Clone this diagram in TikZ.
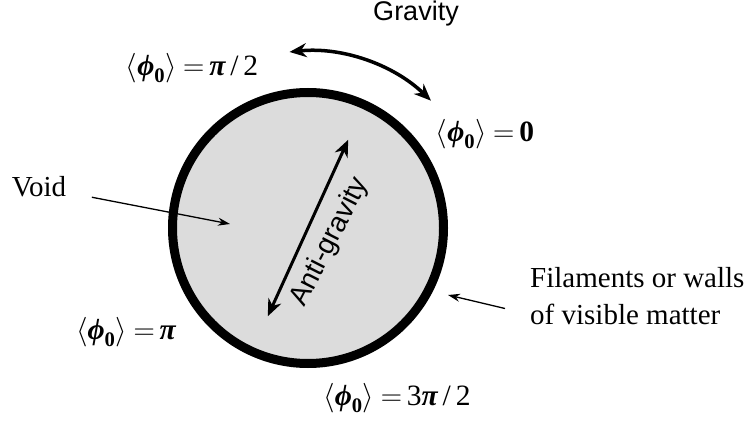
\documentclass[tikz,border=0pt]{standalone}
\usepackage{fix-cm}
\usepackage{amsmath}
\usepackage{fontspec}
\setmainfont{Liberation Serif}
\newfontfamily\arialfont{Liberation Sans}
\usetikzlibrary{arrows.meta,positioning}
\definecolor{voidgray}{HTML}{DCDCDC}

% mean phase label
\newcommand{\phimean}{\left\langle\text{\bfseries\itshape ϕ}_{\text{\bfseries 0}}\right\rangle}
\newcommand{\bpi}{\text{\bfseries\itshape π}}
\newcommand{\eqs}{\mskip1mu{=}\mskip3mu}

\tikzset{
  ring/.style={circle,draw,line width=9pt,fill=voidgray,minimum size=271pt,inner sep=0pt},
  philabel/.style={font=\fontsize{29.5}{34}\selectfont,inner sep=0pt},
  serifnote/.style={font=\fontsize{29}{37}\selectfont,align=left,inner sep=0pt},
  sanslabel/.style={font=\arialfont\fontsize{27}{30}\selectfont,inner sep=0pt},
  pointer/.style={-{Stealth[length=12pt,width=8pt]},line width=1.3pt},
  bigarrow/.style={{Stealth[length=17pt,width=14pt]}-{Stealth[length=17pt,width=14pt]},line width=3.5pt},
}

\begin{document}
\begin{tikzpicture}[x=1pt,y=1pt]
  \useasboundingbox (0,0) rectangle (745,424);

  % the void
  \node[ring] (disk) at (308,196) {};

  % gravity arc outside the wall
  \draw[bigarrow] ([shift={(96:177)}]disk.center) arc[start angle=96,end angle=46,radius=177];
  \node[sanslabel] (grav) at (416,410) {Gravity};

  % anti-gravity across the void
  \draw[bigarrow,line width=3pt] ([shift={(245.5:97)}]disk.center) -- ([shift={(65.5:97)}]disk.center);
  \node[sanslabel,font=\arialfont\fontsize{28}{30}\selectfont,rotate=63] (anti) at ([shift={(22,-14)}]disk.center) {Anti-gravity};

  % phase labels
  \node[philabel] (phitop) at (192,356) {$\phimean\eqs\bpi\text{\,/\,2}$};
  \node[philabel] (phizero) at (485,290) {$\phimean\eqs\text{\bfseries 0}$};
  \node[philabel] (phipi) at (126,92) {$\phimean\eqs\bpi$};
  \node[philabel] (phithree) at (397,26) {$\phimean\eqs\text{3}\bpi\text{\,/\,2}$};

  % pointers
  \node[serifnote] (void) at (39,237) {Void};
  \coordinate (voidtip) at (230,200);
  \draw[pointer,shorten <=26pt] (void) -- (voidtip);

  \node[serifnote,anchor=west] (fil) at (530,127.5) {Filaments or walls\\of visible matter};
  \coordinate (filtip) at (448,129);
  \draw[pointer] ([shift={(-25pt,-12pt)}]fil.west) -- (filtip);
\end{tikzpicture}
\end{document}
